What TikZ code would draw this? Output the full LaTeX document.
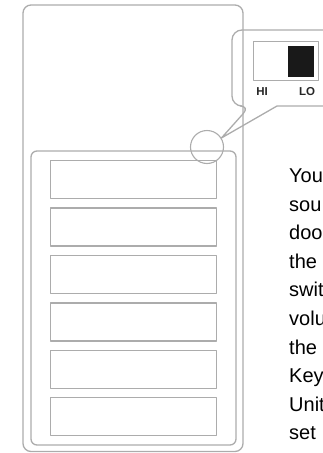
\documentclass[tikz,border=0pt]{standalone}
\usepackage{fontspec}
\setmainfont{Liberation Sans}
\usepackage{tikz}
\usetikzlibrary{calc}

\begin{document}
\begin{tikzpicture}[x=1pt, y=-1pt, line join=round,
    frame/.style={draw=gray!65, line width=1.3pt},
    keybox/.style={frame, rectangle, minimum width=166pt, minimum height=38pt, inner sep=0pt, anchor=north west},
    swlabel/.style={font=\fontsize{11.5}{11.5}\selectfont\bfseries, text=black!85, inner sep=0pt}]
    \useasboundingbox (0,0) rectangle (322,453);

    % Unit body and key panel
    \draw[frame, rounded corners=8pt] (23,5) rectangle (243,451.5);
    \draw[frame, rounded corners=6pt] (31,151) rectangle (236,445);

    % Six keys
    \foreach \i in {0,...,5}
        \node[keybox] (key\i) at (50,160+47.4*\i) {};

    % Switch position marked on the unit
    \node[draw=gray!65, line width=1.1pt, circle, minimum size=33pt, inner sep=0pt] (spot) at (207,147) {};

    % Callout pointing to the switch
    \coordinate (T) at (spot.32);
    \draw[frame, rounded corners=10pt] (335,30) -- (232,30) -- (232,106) -- (250,106)
        [sharp corners] -- (T) -- (277,106) -- (335,106);

    % HI / LO switch
    \node[draw=gray!65, line width=1.1pt, rectangle, minimum width=65pt, minimum height=39pt, inner sep=0pt, anchor=north west] (sw) at (253,41) {};
    \fill[black!90] (288,46) rectangle (314,77);
    \node[swlabel] (hi) at (262,91.5) {HI};
    \node[swlabel] (lo) at (307,91.5) {LO};

    % Description text, cut at the right edge
    \node[anchor=north west, align=left, inner sep=0pt, font=\fontsize{20}{28.56}\selectfont, text=black] (desc) at (289,168.7)
        {You\\sou\\doo\\the\\swit\\volu\\the\\Key\\Unit\\set};
\end{tikzpicture}
\end{document}
